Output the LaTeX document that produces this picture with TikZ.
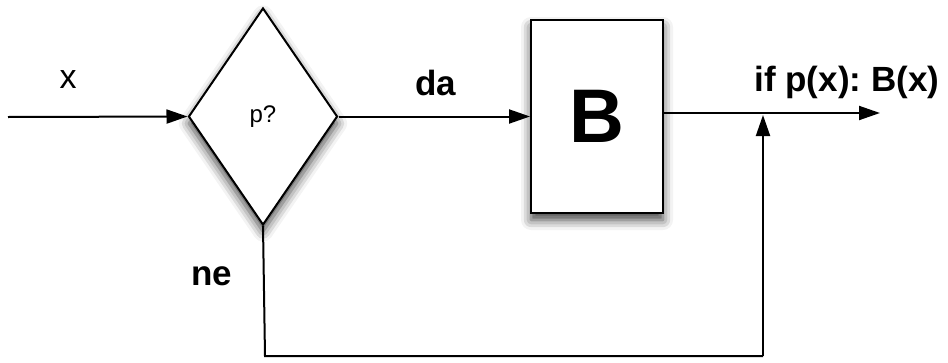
\documentclass[tikz,border=0pt]{standalone}
\usepackage{fontspec}
\setmainfont{Liberation Sans}
\usetikzlibrary{shapes.geometric,arrows.meta,shadows.blur}
\begin{document}
\begin{tikzpicture}[x=1pt,y=-1pt,
  conn/.style={line width=2pt,-{Triangle[length=21pt,width=14pt]}},
  plain/.style={line width=2pt},
  shd/.style={blur shadow={shadow xshift=0pt,shadow yshift=-7pt,shadow blur radius=10pt,shadow opacity=75}},
  lbl/.style={font=\fontsize{35}{40}\selectfont\bfseries,inner sep=0pt},
  lblr/.style={font=\fontsize{34}{40}\selectfont,inner sep=0pt}]
\useasboundingbox (0,0) rectangle (948,362);
\node[diamond,draw,line width=2pt,fill=white,shd,minimum width=149pt,minimum height=217pt,inner sep=0pt,
  font=\fontsize{24}{28}\selectfont] (D) at (263,116.5) {p?};
\node[rectangle,draw,line width=2pt,fill=white,shd,minimum width=132pt,minimum height=193pt,inner sep=0pt,
  font=\fontsize{76}{80}\selectfont\bfseries] (B) at (597,116.5) {B};
\coordinate (in) at (8,117);
\coordinate (out) at (880,113);
\coordinate (bl) at (265,356);
\coordinate (br) at (763,356);
\coordinate (fb) at (763,115);
\draw[conn] (in) -- (D.west);
\draw[conn] (D.east) -- (B.west);
\draw[conn] (B.east |- out) -- (out);
\draw[plain] (D.south) -- (bl) -- (br);
\draw[conn] (br) -- (fb);
\node[lblr] (lx) at (68,80) {x};
\node[lbl] (lda) at (436,83) {da};
\node[lbl] (lif) at (847,82) {if p(x):\hspace{-0.08em} B(x)};
\node[lbl] (lne) at (212,276) {ne};
\end{tikzpicture}
\end{document}
